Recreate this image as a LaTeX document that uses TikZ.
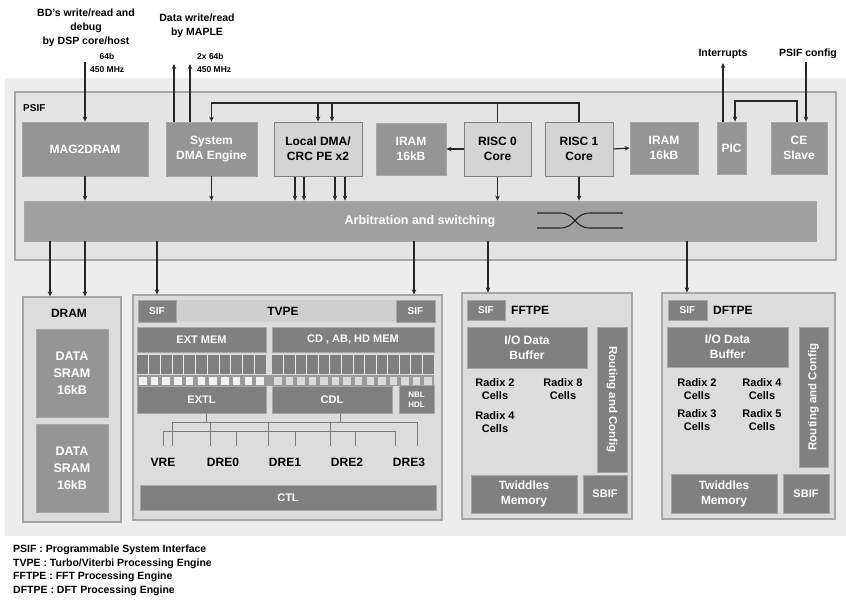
\documentclass[tikz,border=0pt]{standalone}
\usepackage{fontspec}
\setmainfont{Liberation Sans}
\usetikzlibrary{arrows.meta}
\definecolor{bgc}{HTML}{EDEDED}
\definecolor{psifc}{HTML}{E4E4E4}
\definecolor{edgec}{HTML}{A6A6A6}
\definecolor{darkc}{HTML}{959595}
\definecolor{darkerc}{HTML}{808080}
\definecolor{lightc}{HTML}{D4D4D4}
\definecolor{contc}{HTML}{DCDCDC}
\definecolor{bandc}{HTML}{CFCFCF}
\definecolor{linec}{HTML}{262626}
\definecolor{busc}{HTML}{7A7A7A}
\begin{document}
\begin{tikzpicture}[x=1pt,y=-1pt,
  every node/.style={inner sep=0pt, align=center, font=\fontsize{12}{15}\selectfont\bfseries},
  dbox/.style={fill=darkc, draw=edgec, line width=0.8pt, text=white},
  ddbox/.style={fill=darkerc, draw=edgec, line width=0.8pt, text=white},
  lbox/.style={fill=lightc, draw=darkerc, line width=1pt, text=black},
  cont/.style={fill=contc, draw=edgec, line width=1.2pt},
  toplbl/.style={font=\fontsize{10.5}{14}\selectfont\bfseries, text=black},
  smalllbl/.style={font=\fontsize{8.5}{10}\selectfont\bfseries, text=black},
  leglbl/.style={font=\fontsize{10.5}{13}\selectfont\bfseries, text=black, anchor=west},
  arr/.style={draw=linec, line width=1.2pt, -{Stealth[length=5pt,width=4.5pt]}},
  ln/.style={draw=linec, line width=1.2pt},
  bus/.style={draw=busc, line width=0.7pt},
  wsz/.style={minimum width=#1pt},
  hsz/.style={minimum height=#1pt}]
\useasboundingbox (0,0) rectangle (846,603);
\fill[white] (0,0) rectangle (846,603);
\fill[bgc] (5,78) rectangle (846,536);

% ---------- PSIF ----------
\node[fill=psifc, draw=edgec, line width=1.2pt, wsz=821, hsz=168] (psif) at (425.5,176) {};
\node[font=\fontsize{10}{12}\selectfont\bfseries, anchor=west] (psifl) at (23,108) {PSIF};

\node[dbox, wsz=126, hsz=54] (mag) at (85,149) {MAG2DRAM};
\node[dbox, wsz=91, hsz=54] (sdma) at (211.5,149) {System\\DMA Engine};
\node[lbox, wsz=88, hsz=54] (ldma) at (318,149) {Local DMA/\\CRC PE x2};
\node[dbox, wsz=70, hsz=52] (iram1) at (411,149) {IRAM\\16kB};
\node[lbox, wsz=67, hsz=54] (risc0) at (497.5,149) {RISC 0\\Core};
\node[lbox, wsz=68, hsz=54] (risc1) at (579,149) {RISC 1\\Core};
\node[dbox, wsz=68, hsz=52] (iram2) at (664,148) {IRAM\\16kB};
\node[dbox, wsz=29, hsz=52] (pic) at (731.5,148) {PIC};
\node[dbox, wsz=56, hsz=52] (ce) at (799,148) {CE\\Slave};

\node[fill=darkc!90!white, draw=edgec, line width=0.8pt, text=white, wsz=792, hsz=40,
      font=\fontsize{12.5}{15}\selectfont\bfseries] (arb) at (420,221) {Arbitration and switching};
\draw[linec, line width=1.1pt] (537,213) -- (560,213) .. controls (576,213) and (574,228) .. (590,228) -- (623,228);
\draw[linec, line width=1.1pt] (537,228) -- (560,228) .. controls (576,228) and (574,213) .. (590,213) -- (623,213);

% ---------- top labels ----------
\node[toplbl] (bdl) at (86,27.5) {BD's write/read and\\debug\\by DSP core/host};
\node[smalllbl] (b64) at (107,56) {64b};
\node[smalllbl, anchor=west] (bmhz) at (90,70) {450 MHz};
\coordinate (bdin) at (85,62);
\draw[arr] (bdin) -- (mag.north);

\node[toplbl] (mpl) at (197,25.5) {Data write/read\\by MAPLE};
\node[smalllbl, anchor=west] (m64) at (197,56) {2x 64b};
\node[smalllbl, anchor=west] (mmhz) at (197,70) {450 MHz};
\coordinate (mo1) at (174,64);
\coordinate (mo2) at (190,64);
\draw[arr] (sdma.north -| mo1) -- (mo1);
\draw[arr] (sdma.north -| mo2) -- (mo2);

\node[toplbl] (intl) at (723,54) {Interrupts};
\coordinate (into) at (723,63);
\draw[arr] (pic.north -| into) -- (into);
\node[toplbl] (pcl) at (808,54) {PSIF config};
\coordinate (pci) at (806,62);
\draw[arr] (pci) -- (ce.north -| pci);
\draw[arr] (ce.north -| 797,0) |- (735,101) -- (pic.north -| 735,0);

% internal bus
\draw[ln] (risc0.north) -- (risc0.north |- 0,103);
\draw[arr] (risc1.north) |- (sdma.north |- 0,103) -- (sdma.north);
\draw[arr] (318,103) -- (ldma.north -| 318,0);
\draw[arr] (332,103) -- (ldma.north -| 332,0);
\draw[arr] (risc0.west) -- (iram1.east);
\draw[arr] (risc1.east) -- (iram2.west);

% into arbitration
\draw[arr] (mag.south) -- (arb.north -| mag.south);
\draw[arr] (sdma.south) -- (arb.north -| sdma.south);
\foreach \xx in {295,304,335,345} \draw[arr] (ldma.south -| \xx,0) -- (arb.north -| \xx,0);
\draw[arr] (risc0.south) -- (arb.north -| risc0.south);
\draw[arr] (risc1.south) -- (arb.north -| risc1.south);

% ---------- lower containers ----------
\node[cont, wsz=98, hsz=225] (dram) at (72,409.5) {};
\node[cont, wsz=309, hsz=225] (tvpe) at (287.5,407.5) {};
\node[cont, wsz=170, hsz=226] (fft) at (547,406) {};
\node[cont, wsz=173, hsz=226] (dft) at (748.5,406) {};

\foreach \xx in {50,85} \draw[arr] (arb.south -| \xx,0) -- (dram.north -| \xx,0);
\foreach \xx in {157,414} \draw[arr] (arb.south -| \xx,0) -- (tvpe.north -| \xx,0);
\draw[arr] (arb.south -| 488,0) -- (fft.north -| 488,0);
\draw[arr] (arb.south -| 687,0) -- (dft.north -| 687,0);

% DRAM
\node (draml) at (69,313) {DRAM};
\node[dbox, wsz=72, hsz=88, font=\fontsize{12.5}{17}\selectfont\bfseries] (ds1) at (72,373) {DATA\\SRAM\\16kB};
\node[dbox, wsz=72, hsz=88, font=\fontsize{12.5}{17}\selectfont\bfseries] (ds2) at (72,468) {DATA\\SRAM\\16kB};

% TVPE
\fill[bandc] (176,300) rectangle (396,322);
\node[ddbox, wsz=38, hsz=22, font=\fontsize{10}{12}\selectfont\bfseries] (sifl) at (157,311) {SIF};
\node[ddbox, wsz=39, hsz=22, font=\fontsize{10}{12}\selectfont\bfseries] (sifr) at (415.5,311) {SIF};
\node (tvpel) at (283,311) {TVPE};
\node[ddbox, wsz=129, hsz=25, font=\fontsize{11}{13}\selectfont\bfseries] (extm) at (201.5,339.5) {EXT MEM};
\node[ddbox, wsz=162, hsz=25, font=\fontsize{11}{13}\selectfont\bfseries] (cdm) at (353,339.5) {CD , AB, HD MEM};
\fill[darkerc] (137,355) rectangle (266,374);
\fill[darkerc] (272,355) rectangle (434,374);
\foreach \i in {1,...,10} \draw[white!85!gray, line width=0.9pt] ({137+\i*11.73},355) -- ++(0,19);
\foreach \i in {1,...,13} \draw[white!85!gray, line width=0.9pt] ({272+\i*11.57},355) -- ++(0,19);
\fill[darkerc!80!white] (137,375) rectangle (434,386);
\foreach \i in {0,...,10} \fill[white!88!gray] ({137+\i*11.73+2},376.5) rectangle ++(7.5,8);
\foreach \i in {0,...,13} \fill[white!70!gray] ({272+\i*11.57+2},376.5) rectangle ++(7.5,8);
\node[ddbox, wsz=129, hsz=27, font=\fontsize{11}{13}\selectfont\bfseries] (extl) at (201.5,400) {EXTL};
\node[ddbox, wsz=120, hsz=27, font=\fontsize{11}{13}\selectfont\bfseries] (cdl) at (332,400) {CDL};
\node[ddbox, wsz=35, hsz=28, font=\fontsize{8}{10}\selectfont\bfseries] (hdl) at (416.5,399.5) {NBL\\HDL};
% TVPE bus
\draw[bus] (173,422) -- (417,422);
\draw[bus] (163,431) -- (395,431);
\draw[bus] (extl.south -| 206,0) -- (206,422);
\draw[bus] (cdl.south -| 340,0) -- (340,422);
\foreach \xx in {172,210,268,330,417} \draw[bus] (\xx,422) -- (\xx,446);
\foreach \xx in {163,236,295,355,395} \draw[bus] (\xx,431) -- (\xx,446);
\node (vre) at (163,462) {VRE};
\node (dre0) at (223,462) {DRE0};
\node (dre1) at (285,462) {DRE1};
\node (dre2) at (347,462) {DRE2};
\node (dre3) at (409,462) {DRE3};
\node[ddbox, wsz=296, hsz=25, font=\fontsize{11}{13}\selectfont\bfseries] (ctl) at (288,497.5) {CTL};

% FFTPE
\node[ddbox, wsz=38, hsz=20, font=\fontsize{10}{12}\selectfont\bfseries] (fsif) at (486,310) {SIF};
\node[anchor=west] (fftl) at (511,310) {FFTPE};
\node[ddbox, wsz=120, hsz=41] (fio) at (527,347.5) {I/O Data\\Buffer};
\node[ddbox, wsz=30, hsz=145] (frc) at (612,399.5) {};
\node[rotate=-90, text=white, font=\fontsize{11.5}{13}\selectfont\bfseries] (frct) at (frc.center) {Routing and Config};
\node[font=\fontsize{11}{13}\selectfont\bfseries] (fr2) at (495,389) {Radix 2\\Cells};
\node[font=\fontsize{11}{13}\selectfont\bfseries] (fr8) at (563,389) {Radix 8\\Cells};
\node[font=\fontsize{11}{13}\selectfont\bfseries] (fr4) at (495,422) {Radix 4\\Cells};
\node[ddbox, wsz=106, hsz=38] (ftw) at (524,494) {Twiddles\\Memory};
\node[ddbox, wsz=44, hsz=38, font=\fontsize{11}{13}\selectfont\bfseries] (fsb) at (605,494) {SBIF};

% DFTPE
\node[ddbox, wsz=39, hsz=20, font=\fontsize{10}{12}\selectfont\bfseries] (dsif) at (687.5,310) {SIF};
\node[anchor=west] (dftl) at (713,310) {DFTPE};
\node[ddbox, wsz=121, hsz=40] (dio) at (727.5,347) {I/O Data\\Buffer};
\node[ddbox, wsz=29, hsz=140] (drc) at (813.5,397) {};
\node[rotate=90, text=white, font=\fontsize{11.5}{13}\selectfont\bfseries] (drct) at (drc.center) {Routing and Config};
\node[font=\fontsize{11}{13}\selectfont\bfseries] (dr2) at (697,389) {Radix 2\\Cells};
\node[font=\fontsize{11}{13}\selectfont\bfseries] (dr4) at (762,389) {Radix 4\\Cells};
\node[font=\fontsize{11}{13}\selectfont\bfseries] (dr3) at (697,420) {Radix 3\\Cells};
\node[font=\fontsize{11}{13}\selectfont\bfseries] (dr5) at (762,420) {Radix 5\\Cells};
\node[ddbox, wsz=106, hsz=39] (dtw) at (724,493.5) {Twiddles\\Memory};
\node[ddbox, wsz=46, hsz=39, font=\fontsize{11}{13}\selectfont\bfseries] (dsb) at (806,493.5) {SBIF};

% legend
\node[leglbl] (lg1) at (13,550) {PSIF : Programmable System Interface};
\node[leglbl] (lg2) at (13,563.5) {TVPE : Turbo/Viterbi Processing Engine};
\node[leglbl] (lg3) at (13,577) {FFTPE : FFT Processing Engine};
\node[leglbl] (lg4) at (13,590.5) {DFTPE : DFT Processing Engine};
\end{tikzpicture}
\end{document}
